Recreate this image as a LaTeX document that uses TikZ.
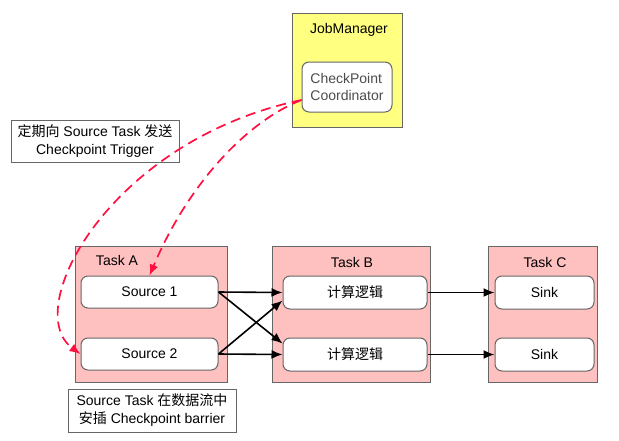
\documentclass[tikz,border=0pt]{standalone}
\usepackage{fontspec}
\setmainfont{Liberation Sans}
\newfontfamily\cjk{Noto Sans CJK SC}
\usetikzlibrary{arrows.meta,calc}
\definecolor{taskpink}{HTML}{FFC0C0}
\definecolor{jmyellow}{HTML}{FFFF80}
\definecolor{boxgray}{HTML}{666666}
\definecolor{dashred}{HTML}{FF1040}
\tikzset{
  taskbox/.style={draw=boxgray, fill=taskpink, line width=1pt, inner sep=0pt},
  opbox/.style={draw=boxgray, fill=white, rounded corners=7pt, line width=1pt, inner sep=0pt, font=\fontsize{14}{16}\selectfont},
  notebox/.style={draw=boxgray, fill=white, line width=1pt, inner sep=0pt, align=center, font=\fontsize{14}{18}\selectfont},
  lbl/.style={inner sep=0pt, font=\fontsize{14}{16}\selectfont},
  flow/.style={-{Latex[length=11pt,width=9pt]}, line width=1.6pt, black},
  trig/.style={-{Latex[length=11pt,width=9pt]}, line width=1.7pt, dashred, dash pattern=on 10pt off 6pt}
}
\begin{document}
\begin{tikzpicture}[x=1pt,y=-1pt]
\useasboundingbox (0,0) rectangle (619,440);
% JobManager
\node[draw=boxgray, fill=jmyellow, line width=1pt, minimum width=110pt, minimum height=114pt, inner sep=0pt] (jm) at (347,70) {};
\node[lbl] (jmlbl) at (349,30) {JobManager};
\node[opbox, minimum width=90pt, minimum height=50pt, align=left, text=black!70, font=\fontsize{14}{17}\selectfont] (coord) at (347,87) {CheckPoint\\Coordinator};
% notes
\node[notebox, minimum width=168pt, minimum height=42pt] (note1) at (95,141) {{\cjk 定期向} Source Task {\cjk 发送}\\Checkpoint Trigger};
\node[notebox, minimum width=168pt, minimum height=43pt] (note2) at (152,410.5) {Source Task {\cjk 在数据流中}\\{\cjk 安插} Checkpoint barrier};
% tasks
\node[taskbox, minimum width=152pt, minimum height=136pt] (ta) at (151.7,314) {};
\node[taskbox, minimum width=158pt, minimum height=136pt] (tb) at (351,314) {};
\node[taskbox, minimum width=109pt, minimum height=136pt] (tc) at (542.5,314) {};
\node[lbl] (talbl) at (117,260) {Task A};
\node[lbl] (tblbl) at (352,262) {Task B};
\node[lbl] (tclbl) at (545,262) {Task C};
% operators
\node[opbox, minimum width=137pt, minimum height=32pt] (s1) at (149.5,292) {Source 1};
\node[opbox, minimum width=137pt, minimum height=32pt] (s2) at (149.5,354) {Source 2};
\node[opbox, minimum width=144pt, minimum height=33pt] (c1) at (355,292.5) {\cjk 计算逻辑};
\node[opbox, minimum width=144pt, minimum height=33pt] (c2) at (355,354.5) {\cjk 计算逻辑};
\node[opbox, minimum width=99pt, minimum height=33pt] (k1) at (544.5,292.5) {Sink};
\node[opbox, minimum width=99pt, minimum height=33pt] (k2) at (544.5,354.5) {Sink};
% data flow
\draw[flow] (s1.east) -- (c1.west);
\draw[flow] (s1.east) -- ($(c2.west)+(0,-11)$);
\draw[flow] (s2.east) -- ($(c1.west)+(0,8)$);
\draw[flow] (s2.east) -- (c2.west);
\draw[flow] (c1.east) -- (k1.west);
\draw[flow] (c2.east) -- (k2.west);
% triggers
\coordinate (cstart) at ($(coord.west)+(0,13)$);
\draw[trig] (cstart) .. controls (250,120) and (190,180) .. (s1.north);
\draw[trig] (cstart) .. controls (110,140) and (20,310) .. (s2.west);
\end{tikzpicture}
\end{document}
